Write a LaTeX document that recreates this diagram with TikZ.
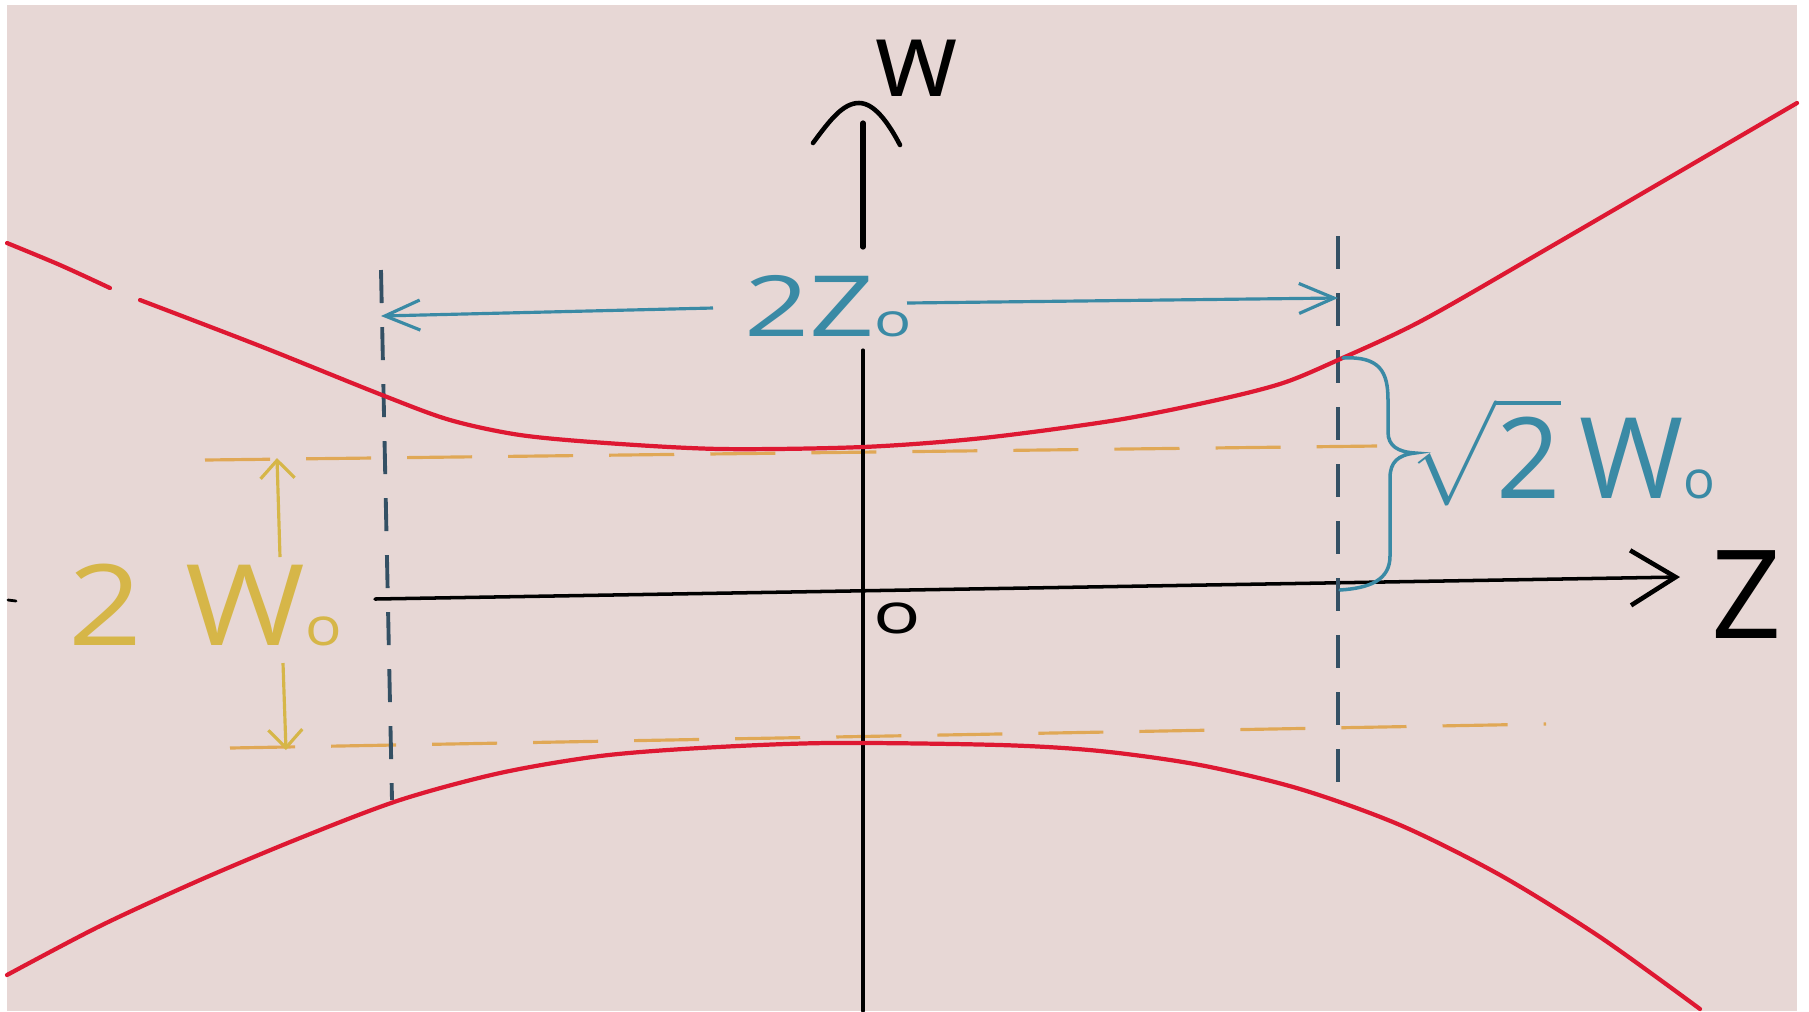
\documentclass[tikz,border=0pt]{standalone}
\usepackage{fontspec}
\setmainfont{Open Sans}
\usepackage{amsmath}
\usetikzlibrary{arrows.meta}

\definecolor{papier}{RGB}{231,215,213}
\definecolor{strahl}{RGB}{222,24,50}
\definecolor{tuerkis}{RGB}{58,138,165}
\definecolor{dunkelblau}{RGB}{52,80,100}
\definecolor{orangegelb}{RGB}{224,168,86}
\definecolor{senf}{RGB}{214,182,72}

\tikzset{
  strahlprofil/.style={strahl, line width=1.2pt, line cap=round},
  achse/.style={black, line width=1pt, line cap=round},
  zmarke/.style={dunkelblau, line width=1.1pt, dash pattern=on 0.33cm off 0.24cm},
  taille/.style={orangegelb, line width=0.9pt, dash pattern=on 0.65cm off 0.36cm},
  masspfeil/.style={tuerkis, line width=0.9pt, -{Straight Barb[length=0.35cm,width=0.3cm]}},
  gelbpfeil/.style={senf, line width=0.9pt, -{Straight Barb[length=0.18cm,width=0.34cm]}},
  beschriftung/.style={inner sep=0pt},
}

\begin{document}
\begin{tikzpicture}[x=0.01cm, y=-0.01cm]
            % Papier:
            \fill[white] (0,0) rectangle (1809,1011);
            \fill[papier] (7,5) rectangle (1797,1011);
            \useasboundingbox (0,0) rectangle (1809,1011);

            % Punkte:
            \coordinate (wOben) at (863,123);
            \coordinate (wMitte) at (863,247);
            \coordinate (wLinks) at (813,143);
            \coordinate (wSpitze) at (859,103);
            \coordinate (wRechts) at (900,145);
            \coordinate (wUnten) at (863,350);
            \coordinate (wEnde) at (863,1011);
            \coordinate (zStart) at (375,599);
            \coordinate (zSpitze) at (1680,577);
            \coordinate (mLo) at (381,270);
            \coordinate (mLu) at (392,800);
            \coordinate (mRo) at (1338,236);
            \coordinate (mRu) at (1338,794);
            \coordinate (pfeilL) at (381,316);
            \coordinate (pfeilR) at (1338,298);
            \coordinate (startL) at (713,308);
            \coordinate (startR) at (907,303);

            % Taille (gestrichelt):
            \draw[taille] (205,460) -- (1377,446);
            \draw[taille] (230,748) -- (1546,724);

            % Achsen:
            \draw[achse, line width=1.5pt] (wMitte) -- (wOben);
            \draw[achse, line width=1.3pt] (wLinks) .. controls (830,120) and (843,103) .. (wSpitze)
                .. controls (874,103) and (888,122) .. (wRechts);
            \draw[achse, line width=0.9pt] (wUnten) -- (wEnde);
            \draw[achse, -{Straight Barb[length=0.45cm,width=0.55cm,line width=1.3pt]}] (zStart) -- (zSpitze);
            \draw[achse, line width=0.8pt] (8,600) -- (16,601);

            % z_0 Marken:
            \draw[zmarke] (mLo) -- (mLu);
            \draw[zmarke] (mRo) -- (mRu);

            % Strahlprofil:
            \draw[strahlprofil] plot[smooth] coordinates {(7,243) (60,265) (110,288)};
            \draw[strahlprofil] plot[smooth] coordinates {(140,300) (260,346) (382,395)
                (450,420) (520,435) (606,443) (721,449) (863,447) (983,438) (1117,420) (1217,400)
                (1283,383) (1338,360) (1423,320) (1557,243) (1797,103)};
            \draw[strahlprofil] plot[smooth] coordinates {(7,975) (100,926) (200,880) (300,838)
                (400,800) (500,773) (600,756) (700,748) (828,743) (1000,745) (1100,751)
                (1200,765) (1300,789) (1400,825) (1500,875) (1600,937) (1700,1009)};

            % Beschriftungen:
            \node[beschriftung, font=\fontsize{30}{30}\selectfont] (wLabel) at (917,68) {w};
            \node[beschriftung, font=\fontsize{35}{35}\selectfont] (zLabel) at (1747,595) {Z};
            \node[beschriftung, font=\fontsize{16}{16}\selectfont, xscale=1.4] (ursprung) at (897,618) {o};
            \node[beschriftung, tuerkis, font=\fontsize{24}{24}\selectfont, xscale=1.35] (zweiZ) at (828,306)
                {2Z{\fontsize{13}{13}\selectfont o}};
            \node[beschriftung, tuerkis, font=\fontsize{32}{32}\selectfont] (wurzel) at (1562,452)
                {$\sqrt{\hbox{2}}$\,W{\fontsize{15}{15}\selectfont o}};
            \node[beschriftung, senf, font=\fontsize{32}{32}\selectfont, xscale=1.15] (zweiW) at (205,605)
                {2\,\,W{\fontsize{15}{15}\selectfont o}};

            % Masspfeile:
            \draw[masspfeil] (startL) -- (pfeilL);
            \draw[masspfeil] (startR) -- (pfeilR);
            \draw[gelbpfeil] (280,557) -- (277,458);
            \draw[gelbpfeil] (283,663) -- (286,750);

            % Klammer:
            \draw[tuerkis, line width=1pt, line cap=round] (1343,358) .. controls (1380,356) and (1388,372) .. (1388,400)
                -- (1388,432) .. controls (1388,446) and (1398,452) .. (1415,453)
                .. controls (1398,455) and (1390,462) .. (1390,478)
                -- (1390,556) .. controls (1390,580) and (1370,588) .. (1340,590);
\end{tikzpicture}
\end{document}
